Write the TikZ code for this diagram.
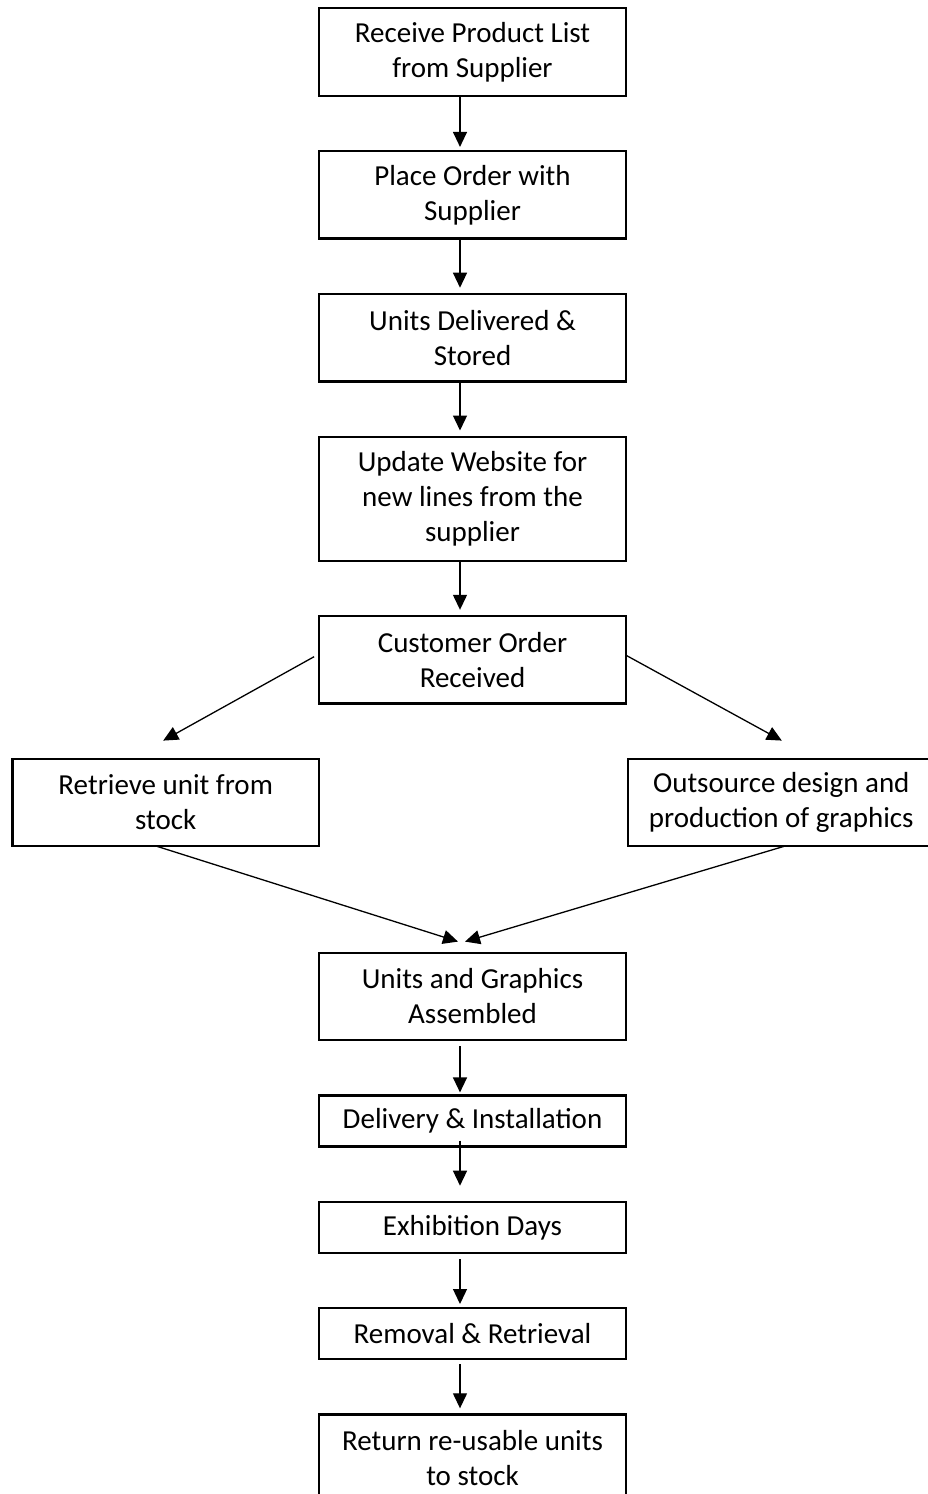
\documentclass[tikz,border=0pt]{standalone}
\usepackage{fontspec}
\setmainfont{Carlito}
\usetikzlibrary{positioning, arrows.meta}

\begin{document}
\begin{tikzpicture}[x = 1pt, y = 1pt, node distance = 53pt, line width = 1.3pt,
        >= {Triangle[width = 14pt, length = 15pt]},
        box/.style     = {draw, line width = 2.3pt, minimum width = 306.5pt,
                          minimum height = 87.5pt, align = center,
                          font = \fontsize{29}{35}\selectfont},
        highbox/.style = {box, minimum height = 124pt},
        lowbox/.style  = {box, minimum height = 51pt}]
        \useasboundingbox (0,0) rectangle (927,-1494);

        \node (1)  [box] at (472.5,-52)            {Receive Product List\\from Supplier};
        \node (2)  [box, below = of 1]             {Place Order with\\Supplier};
        \node (3)  [box, below = of 2]             {Units Delivered \&\\Stored};
        \node (4)  [highbox, below = of 3]         {Update Website for\\new lines from the\\supplier};
        \node (5)  [box, below = of 4]             {Customer Order\\Received};
        \node (6)  [box, below left = 53pt and -2pt of 5]  {Retrieve unit from\\stock};
        \node (7)  [box, below right = 53pt and 0pt of 5]  {Outsource design and\\production of graphics};
        \node (8)  [box, below = 247pt of 5]       {Units and Graphics\\Assembled};
        \node (9)  [lowbox, below = of 8]          {Delivery \& Installation};
        \node (10) [lowbox, below = of 9]          {Exhibition Days};
        \node (11) [lowbox, below = of 10]         {Removal \& Retrieval};
        \node (12) [box, below = of 11]            {Return re-usable units\\to stock};

        \draw[->, shorten >= 3pt] ([xshift = -12.5pt]1.south) -- ([xshift = -12.5pt]2.north);
        \draw[->, shorten >= 5pt] ([xshift = -12.5pt]2.south) -- ([xshift = -12.5pt]3.north);
        \draw[->, shorten >= 5pt] ([xshift = -12.5pt]3.south) -- ([xshift = -12.5pt]4.north);
        \draw[->, shorten >= 5pt] ([xshift = -12.5pt]4.south) -- ([xshift = -12.5pt]5.north);

        \draw[->] ([xshift = -4pt, yshift = 3pt]5.west) -- ([xshift = -2.5pt, yshift = 17pt]6.north);
        \draw[->] ([xshift = -1pt, yshift = 4.5pt]5.east) -- ([xshift = 0.5pt, yshift = 17pt]7.north);
        \draw[->] ([xshift = -8.5pt, yshift = 1pt]6.south) -- ([xshift = -14.5pt, yshift = 10pt]8.north);
        \draw[->] ([xshift = 2.5pt, yshift = 1pt]7.south) -- ([xshift = -7.5pt, yshift = 10pt]8.north);

        \draw[->, shorten <= 5pt, shorten >= 2pt] ([xshift = -12.5pt]8.south) -- ([xshift = -12.5pt]9.north);
        \draw[->, shorten <= -7pt, shorten >= 15pt] ([xshift = -12.5pt]9.south) -- ([xshift = -12.5pt]10.north);
        \draw[->, shorten <= 5pt, shorten >= 3pt] ([xshift = -12.5pt]10.south) -- ([xshift = -12.5pt]11.north);
        \draw[->, shorten <= 4pt, shorten >= 5pt] ([xshift = -12.5pt]11.south) -- ([xshift = -12.5pt]12.north);

    \end{tikzpicture}
\end{document}
